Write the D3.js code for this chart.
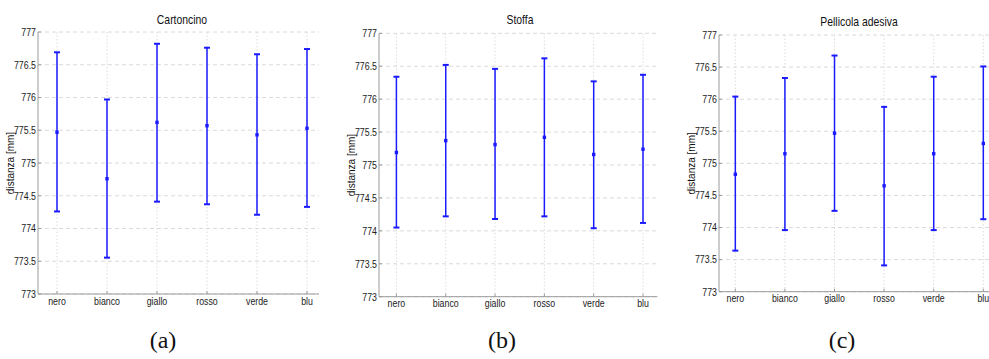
<!DOCTYPE html>
<html>
<head>
<meta charset="utf-8">
<script src="https://cdn.jsdelivr.net/npm/d3@7"></script>
<style>
  html, body { margin: 0; padding: 0; background: #fff; }
  svg { display: block; }
</style>
</head>
<body>
<svg id="chart" width="989" height="359"></svg>
<script>
// ---------- data ----------
const categories = ["nero", "bianco", "giallo", "rosso", "verde", "blu"];
const yTicks = [773, 773.5, 774, 774.5, 775, 775.5, 776, 776.5, 777];
const yTickLabels = ["773", "773.5", "774", "774.5", "775", "775.5", "776", "776.5", "777"];
const titles = ["Cartoncino", "Stoffa", "Pellicola adesiva"];
const captions = ["(a)", "(b)", "(c)"];
const yLabel = "distanza [mm]";

// Cartoncino
const meanA  = [775.47, 774.76, 775.62, 775.57, 775.43, 775.53];
const lowerA = [774.26, 773.555, 774.41, 774.37, 774.21, 774.33];
const upperA = [776.69, 775.97, 776.82, 776.76, 776.66, 776.74];
// Stoffa
const meanB  = [775.19, 775.37, 775.31, 775.42, 775.16, 775.24];
const lowerB = [774.05, 774.22, 774.18, 774.22, 774.04, 774.12];
const upperB = [776.34, 776.52, 776.46, 776.62, 776.27, 776.37];
// Pellicola adesiva
const meanC  = [774.83, 775.15, 775.47, 774.65, 775.15, 775.31];
const lowerC = [773.64, 773.96, 774.26, 773.41, 773.96, 774.13];
const upperC = [776.04, 776.33, 776.68, 775.88, 776.35, 776.51];

const yDomain = [773, 777];
const xLimits = [[0.62, 6.24], [0.647, 6.292], [0.671, 6.29]];

// ---------- layout ----------
const panels = [
  { left: 38,  top: 32,   bottom: 294,   mean: meanA, lower: lowerA, upper: upperA,
    titleX: 182, titleY: 24, labelX: 14, xlabY: 305, capX: 163, capY: 348 },
  { left: 379, top: 33.3, bottom: 296.7, mean: meanB, lower: lowerB, upper: upperB,
    titleX: 520, titleY: 24, labelX: 355, xlabY: 307, capX: 502, capY: 348 },
  { left: 719, top: 35,   bottom: 291.7, mean: meanC, lower: lowerC, upper: upperC,
    titleX: 859, titleY: 26, labelX: 695, xlabY: 302, capX: 842, capY: 348 }
];
const spacing = [50, 49.32, 49.6];

const svg = d3.select("#chart");
const blue = "#1a1aff";
const sans = "'Liberation Sans', Arial, sans-serif";
const squeeze = 0.8;

function narrowText(g, x, y, anchor, size, txt) {
  return g.append("text")
    .attr("transform", `translate(${x},${y}) scale(${squeeze},1)`)
    .attr("text-anchor", anchor)
    .attr("font-family", sans).attr("font-size", size)
    .attr("fill", "#222")
    .text(txt);
}

panels.forEach((p, i) => {
  const lim = xLimits[i];
  const right = p.left + (lim[1] - lim[0]) * spacing[i];
  const x = d3.scaleLinear().domain(lim).range([p.left, right]);
  const y = d3.scaleLinear().domain(yDomain).range([p.bottom, p.top]);
  const g = svg.append("g");

  // horizontal grid
  g.selectAll(".hg").data(yTicks).enter().append("line")
    .attr("x1", p.left).attr("x2", right)
    .attr("y1", d => y(d)).attr("y2", d => y(d))
    .attr("stroke", "#dadada").attr("stroke-width", 1)
    .attr("stroke-dasharray", "4,3");
  // vertical grid
  g.selectAll(".vg").data(categories).enter().append("line")
    .attr("x1", (d, k) => x(k + 1)).attr("x2", (d, k) => x(k + 1))
    .attr("y1", p.top).attr("y2", p.bottom)
    .attr("stroke", "#dcdcdc").attr("stroke-width", 1)
    .attr("stroke-dasharray", "1.5,2");

  // axes lines
  g.append("line").attr("x1", p.left).attr("x2", p.left)
    .attr("y1", p.top).attr("y2", p.bottom)
    .attr("stroke", "#9a9a9a").attr("stroke-width", 1);
  g.append("line").attr("x1", p.left).attr("x2", right)
    .attr("y1", p.bottom).attr("y2", p.bottom)
    .attr("stroke", "#9a9a9a").attr("stroke-width", 1);

  // y tick marks & labels
  g.selectAll(".yt").data(yTicks).enter().append("line")
    .attr("x1", p.left).attr("x2", p.left + 3)
    .attr("y1", d => y(d)).attr("y2", d => y(d))
    .attr("stroke", "#9a9a9a");
  yTicks.forEach((d, k) => narrowText(g, p.left - 2, y(d) + 3.8, "end", 11, yTickLabels[k]));

  // x tick marks & labels
  g.selectAll(".xt").data(categories).enter().append("line")
    .attr("x1", (d, k) => x(k + 1)).attr("x2", (d, k) => x(k + 1))
    .attr("y1", p.bottom).attr("y2", p.bottom - 3)
    .attr("stroke", "#9a9a9a");
  categories.forEach((d, k) => narrowText(g, x(k + 1), p.xlabY, "middle", 11, d));

  // error bars
  const idx = d3.range(categories.length);
  g.selectAll(".eb").data(idx).enter().append("line")
    .attr("x1", k => x(k + 1)).attr("x2", k => x(k + 1))
    .attr("y1", k => y(p.lower[k])).attr("y2", k => y(p.upper[k]))
    .attr("stroke", blue).attr("stroke-width", 1.5);
  ["lower", "upper"].forEach(key => {
    g.selectAll(".cap" + key).data(idx).enter().append("line")
      .attr("x1", k => x(k + 1) - 3).attr("x2", k => x(k + 1) + 3)
      .attr("y1", k => y(p[key][k])).attr("y2", k => y(p[key][k]))
      .attr("stroke", blue).attr("stroke-width", 2);
  });
  g.selectAll(".mk").data(idx).enter().append("rect")
    .attr("x", k => x(k + 1) - 1.7).attr("y", k => y(p.mean[k]) - 1.7)
    .attr("width", 3.4).attr("height", 3.4)
    .attr("fill", blue);

  // title
  narrowText(g, p.titleX, p.titleY, "middle", 13, titles[i]).attr("fill", "#111");

  // y label
  g.append("text")
    .attr("transform", `translate(${p.labelX},${(p.top + p.bottom) / 2}) rotate(-90)`)
    .attr("text-anchor", "middle")
    .attr("font-family", sans).attr("font-size", 10)
    .attr("fill", "#111").text(yLabel);

  // caption
  g.append("text").attr("x", p.capX).attr("y", p.capY)
    .attr("text-anchor", "middle")
    .attr("font-family", "'Liberation Serif', 'DejaVu Serif', serif").attr("font-size", 24)
    .attr("fill", "#111").text(captions[i]);
});
</script>
</body>
</html>
